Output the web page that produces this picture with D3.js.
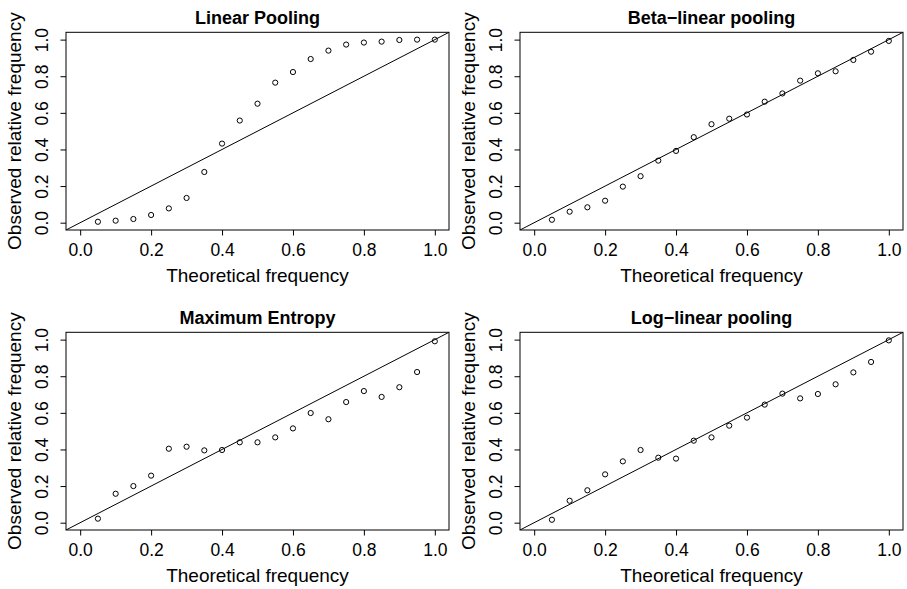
<!DOCTYPE html>
<html>
<head>
<meta charset="utf-8">
<script src="https://cdn.jsdelivr.net/npm/d3@7"></script>
<style>
    html, body { margin: 0; padding: 0; background: #fff; }
    #chart { width: 907px; height: 589px; }
    text { font-family: "Liberation Sans", Arial, Helvetica, sans-serif; fill: #000; }
</style>
</head>
<body>
<div id="chart"></div>
<script>
// Theoretical frequencies (x values shared by all panels)
const theoretical = [0.05, 0.10, 0.15, 0.20, 0.25, 0.30, 0.35, 0.40, 0.45, 0.50,
                     0.55, 0.60, 0.65, 0.70, 0.75, 0.80, 0.85, 0.90, 0.95, 1.00];

// Observed relative frequency, one array per pooling method
const linearPooling = [0.005, 0.011, 0.020, 0.042, 0.078, 0.135, 0.277, 0.432, 0.558, 0.650,
                       0.765, 0.823, 0.894, 0.940, 0.973, 0.984, 0.989, 0.998, 1.000, 1.000];
const betaLinearPooling = [0.016, 0.060, 0.084, 0.120, 0.197, 0.254, 0.339, 0.392, 0.467, 0.538,
                           0.568, 0.591, 0.661, 0.706, 0.776, 0.816, 0.827, 0.889, 0.934, 0.993];
const maximumEntropy = [0.022, 0.158, 0.200, 0.257, 0.404, 0.415, 0.395, 0.397, 0.439, 0.439,
                        0.466, 0.515, 0.599, 0.565, 0.659, 0.719, 0.687, 0.740, 0.823, 0.991];
const logLinearPooling = [0.016, 0.120, 0.177, 0.264, 0.335, 0.397, 0.355, 0.350, 0.448, 0.466,
                          0.530, 0.574, 0.645, 0.705, 0.679, 0.703, 0.756, 0.821, 0.878, 0.996];

const titles = ["Linear Pooling", "Beta\u2212linear pooling", "Maximum Entropy", "Log\u2212linear pooling"];
const tickValues = [0, 0.2, 0.4, 0.6, 0.8, 1.0];
const xLabel = "Theoretical frequency";
const yLabel = "Observed relative frequency";

const panels = [
    { title: titles[0], values: linearPooling, ox: 0, oy: 0 },
    { title: titles[1], values: betaLinearPooling, ox: 454, oy: 0 },
    { title: titles[2], values: maximumEntropy, ox: 0, oy: 300 },
    { title: titles[3], values: logLinearPooling, ox: 454, oy: 300 }
];

const svg = d3.select("#chart")
    .append("svg")
    .attr("width", 907)
    .attr("height", 589)
    .style("display", "block");

// plot region inside each panel (R base graphics style)
const margin = { top: 32.3, left: 66 };
const plotWidth = 383;
const plotHeight = 197.7;

panels.forEach(p => {
    const g = svg.append("g")
        .attr("transform", `translate(${p.ox + margin.left},${p.oy + margin.top})`);

    const xScale = d3.scaleLinear().domain([-0.04, 1.04]).range([0, plotWidth]);
    const yScale = d3.scaleLinear().domain([-0.04, 1.04]).range([plotHeight, 0]);

    // x axis
    const xAxis = g.append("g")
        .attr("transform", `translate(0,${plotHeight})`)
        .call(d3.axisBottom(xScale)
            .tickValues(tickValues)
            .tickFormat(d3.format(".1f"))
            .tickSize(5.5)
            .tickSizeOuter(0));
    xAxis.select(".domain").remove();
    xAxis.selectAll("line").attr("stroke", "#000");
    xAxis.selectAll("text")
        .attr("y", 25.7)
        .attr("dy", null)
        .attr("fill", "#000")
        .style("font-size", "17.5px")
        .style("font-family", "'Liberation Sans', Arial, sans-serif");

    // y axis, labels rotated like las=0
    const yAxis = g.append("g")
        .call(d3.axisLeft(yScale)
            .tickValues(tickValues)
            .tickFormat(d3.format(".1f"))
            .tickSize(5.5)
            .tickSizeOuter(0));
    yAxis.select(".domain").remove();
    yAxis.selectAll("line").attr("stroke", "#000");
    yAxis.selectAll("text")
        .attr("transform", "rotate(-90)")
        .attr("x", 0)
        .attr("y", -18)
        .attr("dy", null)
        .attr("text-anchor", "middle")
        .attr("fill", "#000")
        .style("font-size", "17.5px")
        .style("font-family", "'Liberation Sans', Arial, sans-serif");

    // clipped diagonal reference line
    const clipId = `clip-${p.ox}-${p.oy}`;
    g.append("clipPath")
        .attr("id", clipId)
        .append("rect")
        .attr("width", plotWidth)
        .attr("height", plotHeight);

    g.append("line")
        .attr("clip-path", `url(#${clipId})`)
        .attr("x1", xScale(-0.04))
        .attr("y1", yScale(-0.04))
        .attr("x2", xScale(1.04))
        .attr("y2", yScale(1.04))
        .attr("stroke", "#000")
        .attr("stroke-width", 1);

    // points
    g.selectAll("circle")
        .data(p.values)
        .enter()
        .append("circle")
        .attr("cx", (d, i) => xScale(theoretical[i]))
        .attr("cy", d => yScale(d))
        .attr("r", 2.6)
        .attr("fill", "none")
        .attr("stroke", "#000")
        .attr("stroke-width", 1);

    // box
    g.append("rect")
        .attr("width", plotWidth)
        .attr("height", plotHeight)
        .attr("fill", "none")
        .attr("stroke", "#000")
        .attr("stroke-width", 1);

    // title
    g.append("text")
        .attr("x", plotWidth / 2)
        .attr("y", 24 - margin.top)
        .attr("text-anchor", "middle")
        .style("font-size", "18px")
        .style("font-weight", "bold")
        .text(p.title);

    // axis titles
    g.append("text")
        .attr("x", plotWidth / 2)
        .attr("y", 281.7 - margin.top)
        .attr("text-anchor", "middle")
        .style("font-size", "19px")
        .text(xLabel);

    g.append("text")
        .attr("transform", `translate(${20.7 - margin.left},${plotHeight / 2}) rotate(-90)`)
        .attr("text-anchor", "middle")
        .style("font-size", "19px")
        .text(yLabel);
});
</script>
</body>
</html>
